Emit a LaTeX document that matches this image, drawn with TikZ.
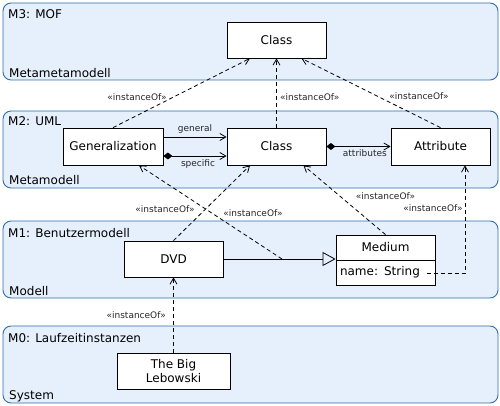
\documentclass[tikz,border=0pt]{standalone}
\usepackage{fontspec}
\setmainfont{DejaVu Sans}
\usetikzlibrary{arrows.meta}
\definecolor{layerfill}{HTML}{E6EFFC}
\definecolor{layerdraw}{HTML}{2F6EAE}
\begin{document}
\begin{tikzpicture}[x=1pt,y=-1pt,
 layer/.style={draw=layerdraw, fill=layerfill, rounded corners=8pt, line width=0.9pt},
 box/.style={draw, fill=white, line width=0.8pt, minimum width=99pt, minimum height=36pt, font=\fontsize{12}{14}\selectfont, inner sep=0pt, align=center},
 lbl/.style={font=\fontsize{12}{14}\selectfont, anchor=base west, inner sep=0pt},
 io/.style={font=\fontsize{9}{10}\selectfont, inner sep=0pt, text=black!85},
 barb/.style={-{Straight Barb[length=6pt,width=7pt]}},
 inst/.style={dashed, dash pattern=on 4pt off 3pt, line width=0.8pt, barb},
 assoc/.style={line width=0.8pt, barb},
 comp/.style={line width=0.8pt, {Diamond[length=9pt,width=7pt]}-{Straight Barb[length=6pt,width=7pt]}},
]
\useasboundingbox (0,0) rectangle (500,406);
% layers
\draw[layer] (3,3) rectangle (498,80);
\draw[layer] (3,111) rectangle (498,188);
\draw[layer] (3,221) rectangle (498,298);
\draw[layer] (3,326) rectangle (498,403);
\node[lbl] (l3a) at (8,19) {M3: MOF};
\node[lbl] (l3b) at (9,77.5) {Metametamodell};
\node[lbl] (l2a) at (8,125.5) {M2: UML};
\node[lbl] (l2b) at (9,185) {Metamodell};
\node[lbl] (l1a) at (8,237) {M1: Benutzermodell};
\node[lbl] (l1b) at (9,295) {Modell};
\node[lbl] (l0a) at (8,342.5) {M0: Laufzeitinstanzen};
\node[lbl] (l0b) at (9,399) {System};
% boxes
\node[box] (c3) at (276.5,40) {Class};
\node[box, minimum width=100pt, minimum height=37pt] (gen) at (113,146.5) {Generalization};
\node[box, minimum height=37pt] (c2) at (276.5,146.5) {Class};
\node[box, minimum height=37pt] (attr) at (440.5,146.5) {Attribute};
\node[box] (dvd) at (173.5,259) {DVD};
\node[box, minimum height=25pt] (med) at (385.5,247.5) {Medium};
\node[box, minimum height=25pt, text width=91pt, align=left] (mattr) at (385.5,272.5) {name: String};
\node[box, minimum width=113pt, font=\fontsize{12}{13.5}\selectfont] (leb) at (173.5,371) {The Big\\Lebowski};
% M2 internal associations
\draw[assoc] (gen.east |- 0,137) -- (c2.west |- 0,137) node[io, midway, above=3pt] (lgen) {general};
\draw[comp] (gen.east |- 0,156) -- (c2.west |- 0,156) node[io, midway, below=3pt, xshift=3pt] (lspec) {specific};
\draw[comp] (c2.east) -- (attr.west) node[io, pos=0.6, below=3pt] (lattr) {attributes};
% M2 -> M3
\draw[inst] (gen.north) -- ([xshift=-26.5pt]c3.south);
\draw[inst] (c2.north) -- (c3.south);
\draw[inst] (attr.north) -- ([xshift=25pt]c3.south);
\node[io] (i1) at (137,97) {«instanceOf»};
\node[io, anchor=west] (i2) at (280,97) {«instanceOf»};
\node[io] (i3) at (419,96) {«instanceOf»};
% M1
\coordinate (gp) at (282,259);
\draw[line width=0.8pt, -{Triangle[open, length=13pt, width=14pt]}, fill=white] (dvd.east) -- (dvd.east -| med.west);
\draw[inst] (dvd.north) -- ([xshift=-26.5pt]c2.south);
\draw[inst] (gp) -- ([xshift=26pt]gen.south);
\draw[inst] (med.north) -- ([xshift=27pt]c2.south);
\coordinate (nameend) at (426.5,273);
\draw[inst] (nameend) -| ([xshift=24.5pt]attr.south);
\node[io] (i4) at (165,209) {«instanceOf»};
\node[io] (i5) at (253,213) {«instanceOf»};
\node[io] (i6) at (385.5,196.5) {«instanceOf»};
\node[io] (i7) at (433,208) {«instanceOf»};
% M0
\draw[inst] (leb.north) -- (dvd.south);
\node[io, anchor=east] (i8) at (166,315) {«instanceOf»};
\end{tikzpicture}
\end{document}
